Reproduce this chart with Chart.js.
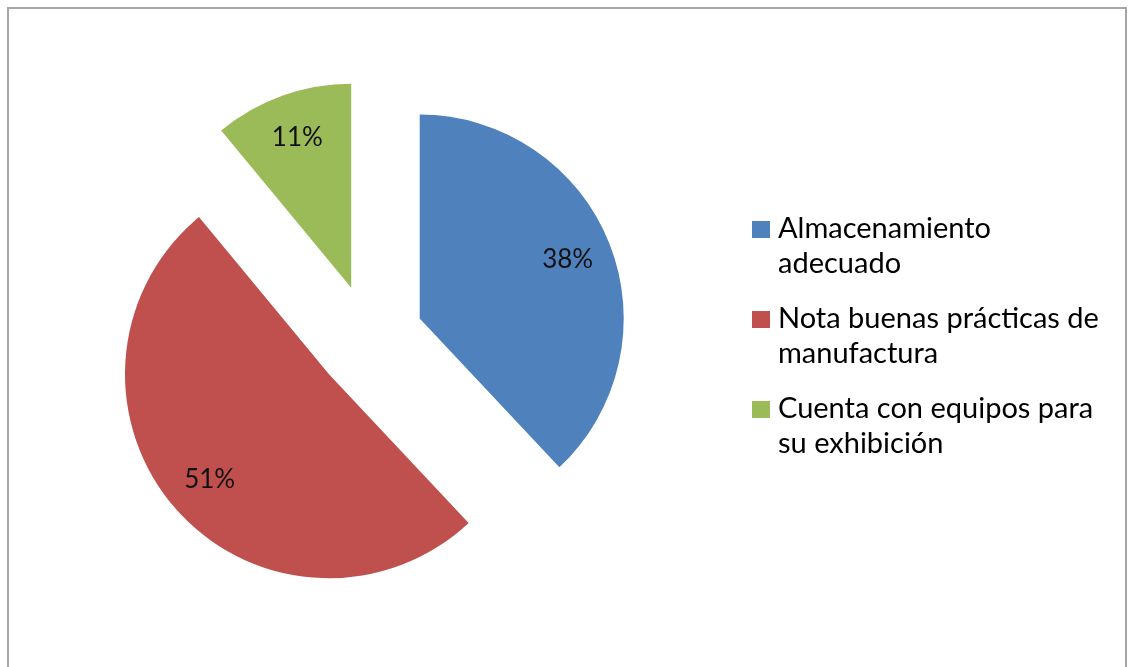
<!DOCTYPE html>
<html>
<head>
<meta charset="utf-8">
<script src="https://cdn.jsdelivr.net/npm/chart.js@4.4.1/dist/chart.umd.min.js"></script>
<style>
  html, body { margin: 0; padding: 0; background: #fff; overflow: hidden; }
  #marco {
    position: absolute; left: 7px; top: 7px; width: 1116px; height: 700px;
    border: 2px solid #a6a6a6; border-bottom: none;
  }
  #grafico { position: absolute; left: 0; top: 0; }
  #leyenda {
    position: absolute; left: 752px; top: 209px;
    font-family: Lato, sans-serif; font-size: 29px; line-height: 35px; color: #000;
  }
  .item { position: relative; padding-left: 26px; margin-bottom: 20px; white-space: nowrap; }
  .item .cuadro { position: absolute; left: 0; top: 12px; width: 18px; height: 17px; }
</style>
</head>
<body>
<div id="marco"></div>
<canvas id="grafico" width="1128" height="667"></canvas>
<div id="leyenda"></div>

<script>
// Datos del gráfico
const categorias = [
  ['Almacenamiento', 'adecuado'],
  ['Nota buenas prácticas de', 'manufactura'],
  ['Cuenta con equipos para', 'su exhibición']
];
const porcentajes = [38, 51, 11];
const colores = ['#4F81BD', '#C0504D', '#9BBB59'];

// separación de cada porción respecto al centro (px)
const SEPARACION = 54;

// ------- Porciones separadas -------
const explotar = {
  id: 'explotar',
  afterDatasetUpdate(chart, args) {
    args.meta.data.forEach(arc => {
      const medio = (arc.startAngle + arc.endAngle) / 2;
      arc.x += Math.cos(medio) * SEPARACION;
      arc.y += Math.sin(medio) * SEPARACION;
    });
  }
};

// ------- Etiquetas de porcentaje -------
const etiquetas = {
  id: 'etiquetas',
  afterDatasetsDraw(chart) {
    const ctx = chart.ctx;
    const meta = chart.getDatasetMeta(0);
    ctx.save();
    ctx.font = '26px Lato, sans-serif';
    ctx.fillStyle = '#111';
    ctx.textAlign = 'center';
    ctx.textBaseline = 'middle';
    meta.data.forEach((arc, i) => {
      const medio = (arc.startAngle + arc.endAngle) / 2;
      const r = arc.outerRadius * 0.78;
      ctx.fillText(porcentajes[i] + '%', arc.x + Math.cos(medio) * r, arc.y + Math.sin(medio) * r);
    });
    ctx.restore();
  }
};

new Chart(document.getElementById('grafico'), {
  type: 'pie',
  data: {
    labels: categorias,
    datasets: [{
      data: porcentajes,
      backgroundColor: colores,
      borderWidth: 0,
      radius: 204
    }]
  },
  options: {
    responsive: false,
    animation: false,
    events: [],
    layout: { padding: { left: 0, right: 389, top: 10, bottom: 0 } },
    plugins: {
      legend: { display: false },
      tooltip: { enabled: false }
    }
  },
  plugins: [explotar, etiquetas]
});

// Leyenda a la derecha
const leyenda = document.getElementById('leyenda');
categorias.forEach((lineas, i) => {
  const item = document.createElement('div');
  item.className = 'item';
  item.innerHTML = `<span class="cuadro" style="background:${colores[i]}"></span>${lineas.join('<br>')}`;
  leyenda.appendChild(item);
});
</script>
</body>
</html>
